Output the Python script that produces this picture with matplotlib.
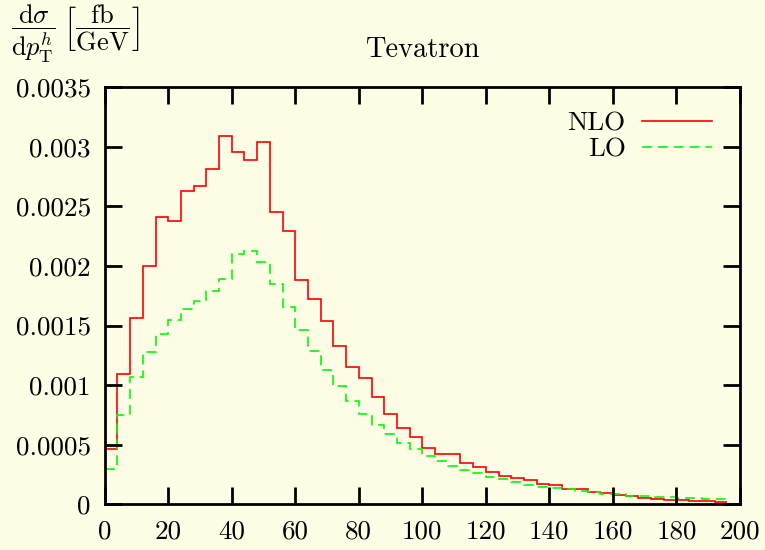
import numpy as np
import matplotlib
matplotlib.use("Agg")
import matplotlib.pyplot as plt

# bin edges 0..196, width 4
edges = np.arange(0, 200, 4)

nlo = [0.00046, 0.00109, 0.00156, 0.00200, 0.00241, 0.00238, 0.00263, 0.00267,
       0.00281, 0.00309, 0.00296, 0.00289, 0.00304, 0.00245, 0.00229, 0.00188,
       0.00172, 0.00154, 0.00133, 0.00115, 0.00106, 0.00090, 0.000755, 0.000638,
       0.000565, 0.000475, 0.000425, 0.00042, 0.000344, 0.000316, 0.000274, 0.00024,
       0.000218, 0.000204, 0.00017, 0.000162, 0.000131, 0.000126, 0.000103, 0.000092,
       0.000075, 0.000067, 0.000053, 0.000048, 0.000039, 0.000036, 0.000028, 0.000025,
       0.000017]

lo = [0.000296, 0.000747, 0.00107, 0.00128, 0.00143, 0.00155, 0.00164, 0.00171,
      0.00179, 0.00189, 0.00210, 0.00213, 0.00203, 0.00185, 0.00166, 0.00146,
      0.00129, 0.00113, 0.00099, 0.00087, 0.00076, 0.000666, 0.000587, 0.000517,
      0.00046, 0.000405, 0.000364, 0.000324, 0.00029, 0.00026, 0.000232, 0.000213,
      0.000185, 0.000165, 0.000148, 0.000137, 0.000126, 0.000115, 0.000103, 0.00009,
      0.000084, 0.000073, 0.000067, 0.000062, 0.000059, 0.000053, 0.00005, 0.000048,
      0.000042]

xticks = list(range(0, 201, 20))
yticks = [0, 0.0005, 0.001, 0.0015, 0.002, 0.0025, 0.003, 0.0035]
ytick_labels = ["0", "0.0005", "0.001", "0.0015", "0.002", "0.0025", "0.003", "0.0035"]

plt.rcParams['font.family'] = 'cmr10'
plt.rcParams['mathtext.fontset'] = 'cm'
plt.rcParams['axes.formatter.use_mathtext'] = True

bg = '#fefee6'
fig = plt.figure(figsize=(7.65, 5.5), dpi=100, facecolor=bg)
ax = fig.add_axes([0.1369, 0.0831, 0.8304, 0.7582], facecolor=bg)

ax.stairs(nlo, edges, baseline=None, color='#ff0000', lw=1.2, label='NLO')
ax.stairs(lo, edges, baseline=None, color='#00ff00', lw=1.2, ls=(0, (6, 3.5)), label='LO')

ax.set_xlim(0, 200)
ax.set_ylim(0, 0.0035)
ax.set_xticks(xticks)
ax.set_xticklabels([str(v) for v in xticks])
ax.set_yticks(yticks)
ax.set_yticklabels(ytick_labels)
ax.tick_params(direction='in', length=12, width=2, labelsize=19.5, top=True, right=True)
ax.tick_params(axis='x', pad=11)
ax.tick_params(axis='y', pad=10)
for s in ax.spines.values():
    s.set_linewidth(2)

ax.set_title('Tevatron', fontsize=20.5, pad=22)

fig.text(0.015, 0.938,
         r'$\dfrac{\mathrm{d}\sigma}{\mathrm{d}p_{\mathrm{T}}^{h}}\;\left[\dfrac{\mathrm{fb}}{\mathrm{GeV}}\right]$',
         fontsize=19, ha='left', va='center')

ax.legend(loc='upper right', frameon=False, fontsize=19.5, markerfirst=False,
          handlelength=2.6, handletextpad=0.6, labelspacing=0.08,
          bbox_to_anchor=(0.995, 1.0))

fig.savefig('out.png', dpi=100, facecolor=bg)
